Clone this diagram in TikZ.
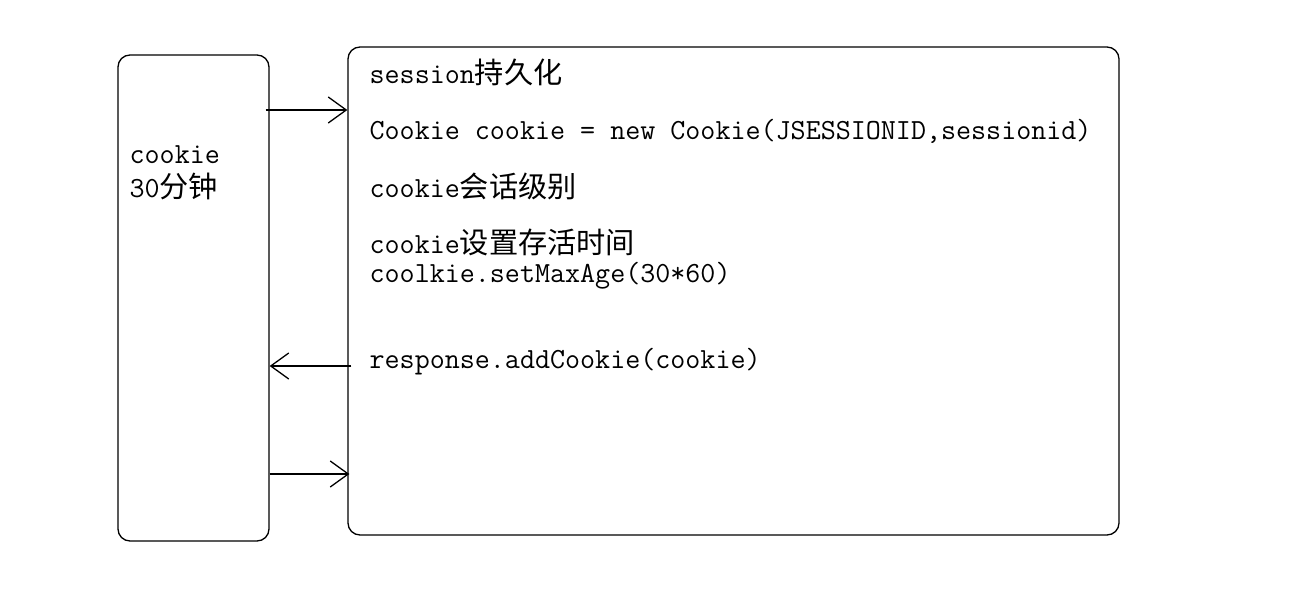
\documentclass[tikz,border=0pt]{standalone}
\usepackage{fontspec}
\newfontfamily\cjk{Noto Sans CJK SC}
\usetikzlibrary{arrows.meta}

\begin{document}
\begin{tikzpicture}[
			x=1pt, y=-1pt,
			line width=1.3pt,
			>={Straight Barb[length=18pt,width=26pt]},
			mybox/.style={draw, rounded corners=12pt, rectangle},
			code/.style={anchor=base west, inner sep=0pt, align=left, font=\ttfamily\fontsize{29.2}{29}\selectfont}
		]
		\useasboundingbox (0,0) rectangle (1311,604);
		\node[mybox, minimum width=151pt, minimum height=486pt] (browser) at (193.5,298) {};
		\node[mybox, minimum width=771pt, minimum height=488pt] (server) at (733.5,291) {};

		% two-line nodes: base is the last line
		\node[code] (lifetime) at (129,197) {cookie\\[4pt]30{\cjk 分钟}};

		\node[code] (persist) at (369,84) {session{\cjk 持久化}};
		\node[code] (newcookie) at (369,140) {Cookie cookie = new Cookie(JSESSIONID,sessionid)};
		\node[code] (level) at (369,197) {cookie{\cjk 会话级别}};
		\node[code] (maxage) at (369,282) {cookie{\cjk 设置存活时间}\\coolkie.setMaxAge(30*60)};
		\node[code] (addcookie) at (369,368) {response.addCookie(cookie)};

		\draw[->] ([xshift=-4pt]browser.east |- 0,110) -- (server.west |- 0,110);
		\draw[->] ([xshift=4pt]server.west |- 0,366) -- (browser.east |- 0,366);
		\draw[->] (browser.east |- 0,474) -- ([xshift=2pt]server.west |- 0,474);
	\end{tikzpicture}
\end{document}
